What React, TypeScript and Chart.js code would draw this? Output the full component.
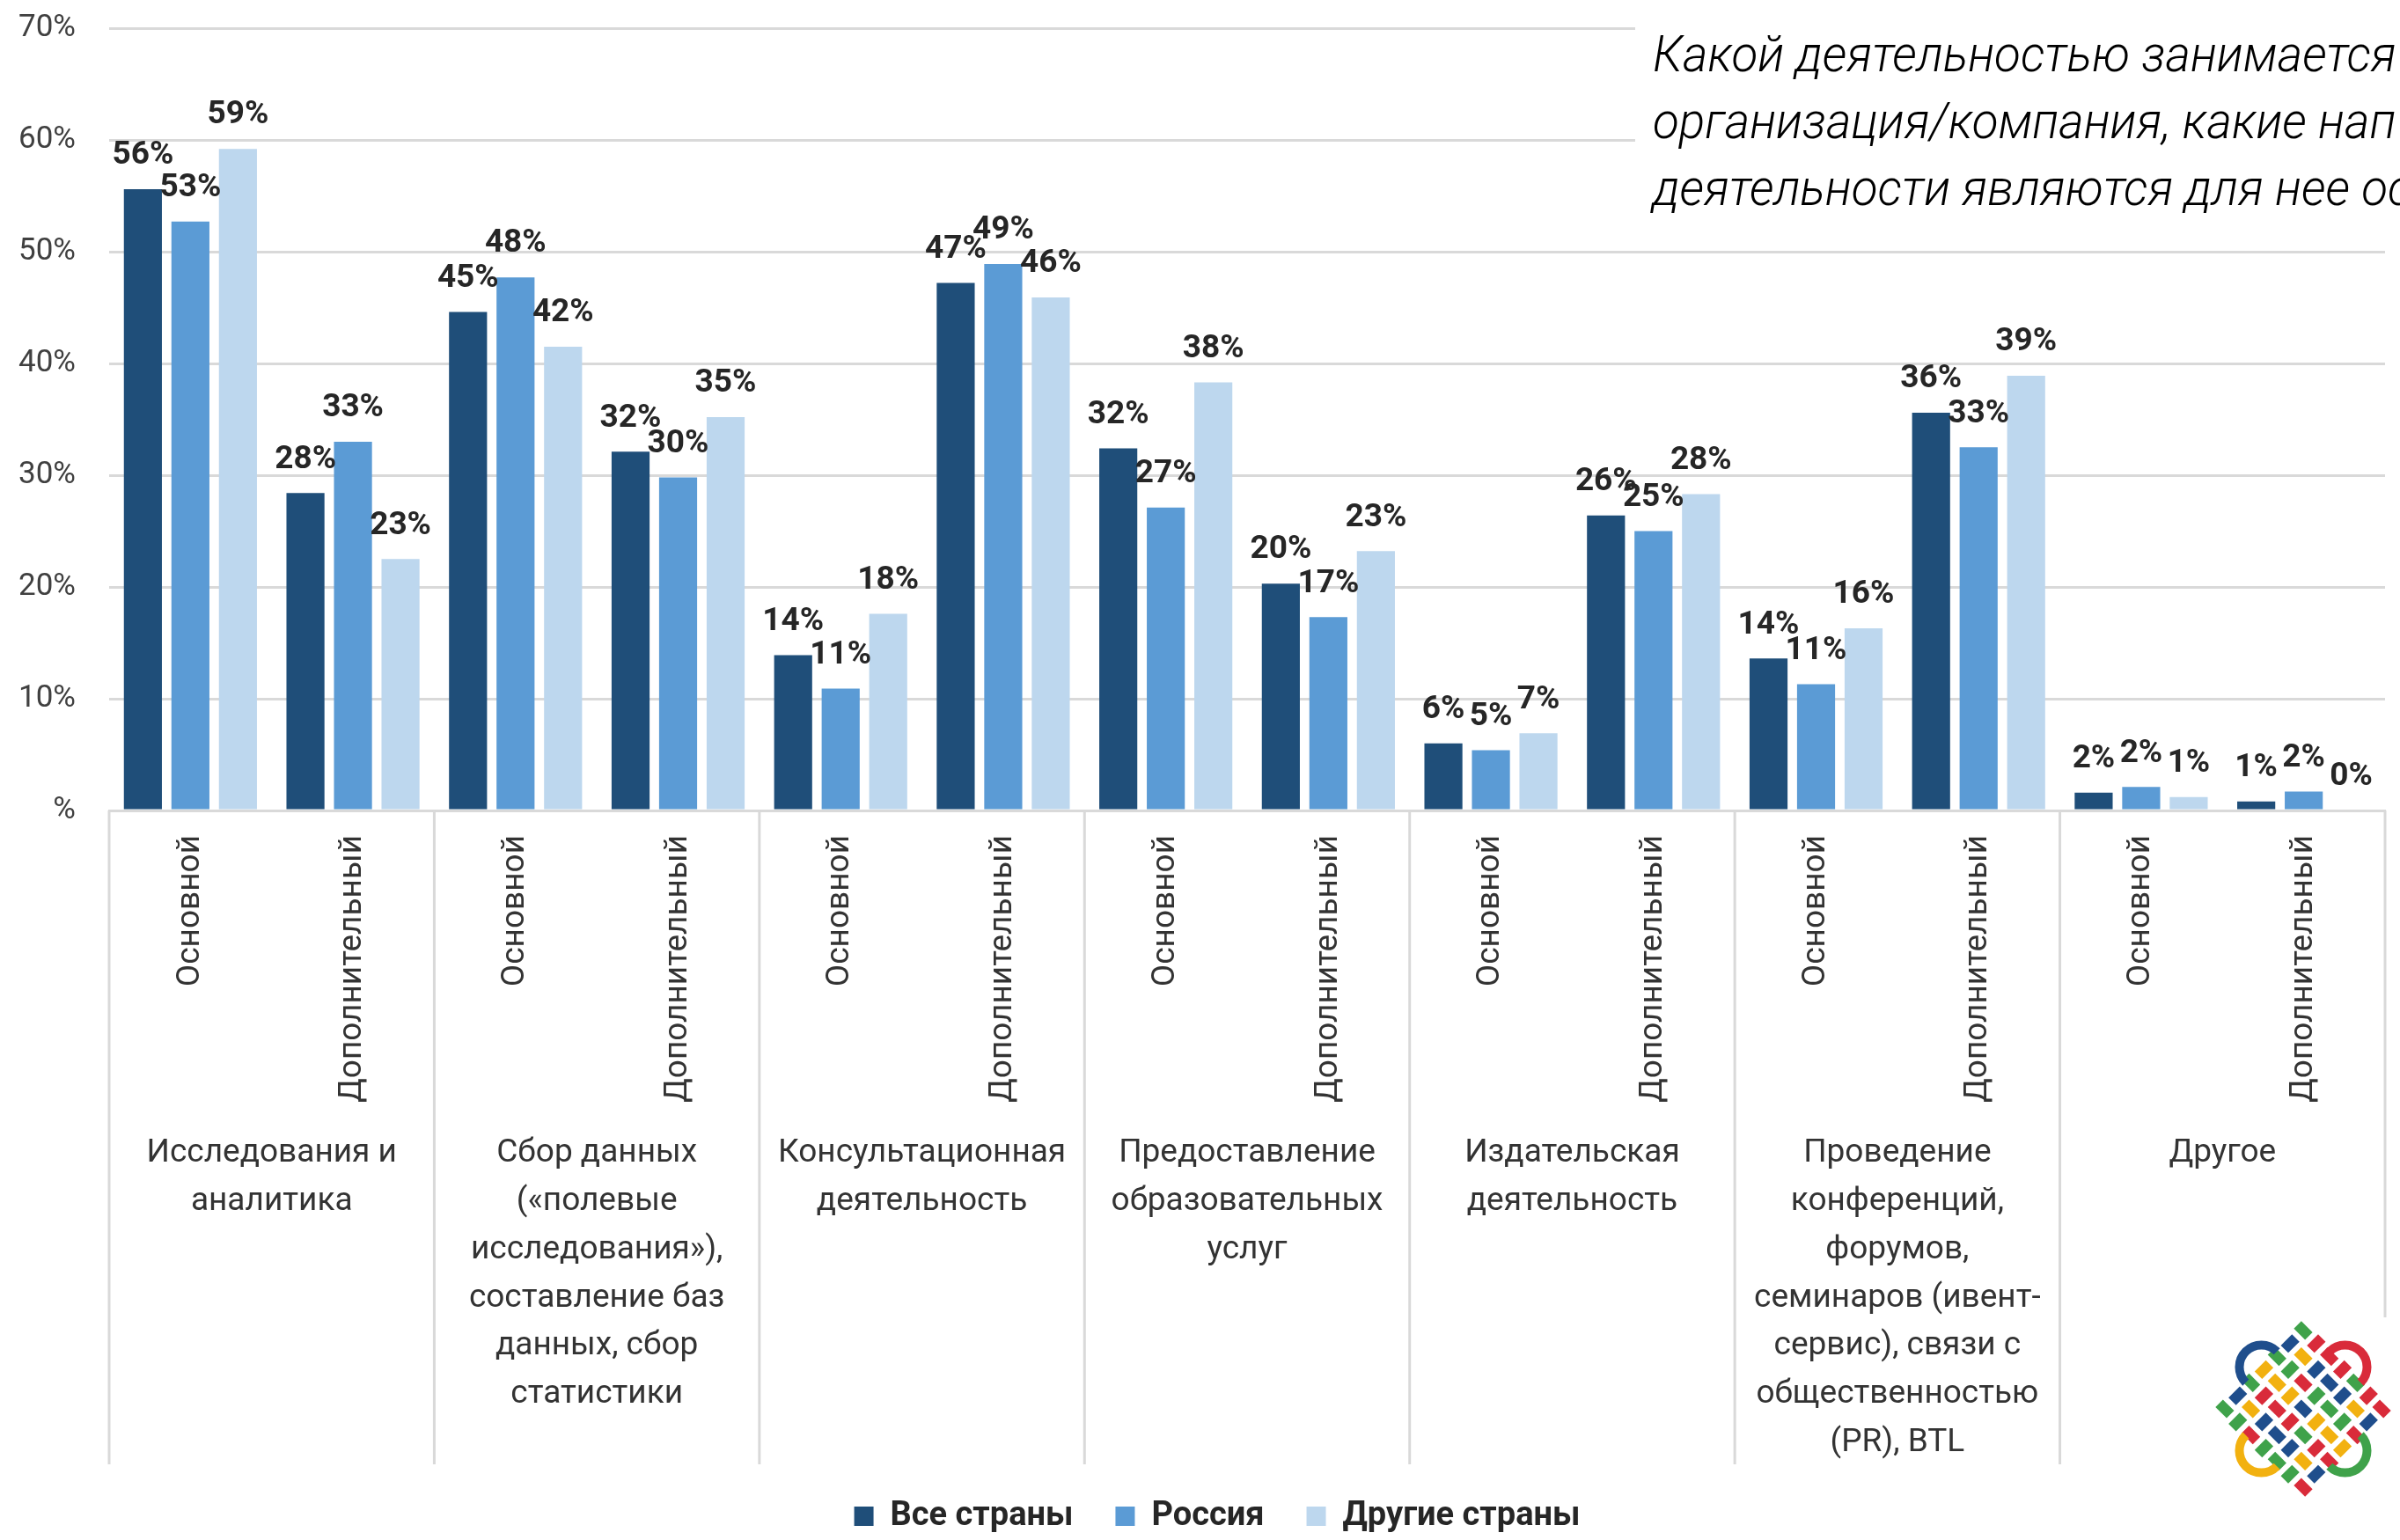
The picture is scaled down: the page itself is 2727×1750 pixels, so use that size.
import React, { useEffect, useRef } from "react";
import { Chart, registerables } from "chart.js";

Chart.register(...registerables);

const categories = [
  "Основной", "Дополнительный", "Основной", "Дополнительный", "Основной", "Дополнительный", "Основной",
  "Дополнительный", "Основной", "Дополнительный", "Основной", "Дополнительный", "Основной", "Дополнительный",
];
const groupLabels = [
  ["Исследования и", "аналитика"],
  ["Сбор данных", "(«полевые", "исследования»),", "составление баз", "данных, сбор", "статистики"],
  ["Консультационная", "деятельность"],
  ["Предоставление", "образовательных", "услуг"],
  ["Издательская", "деятельность"],
  ["Проведение", "конференций,", "форумов,", "семинаров (ивент-", "сервис), связи с", "общественностью", "(PR), BTL"],
  ["Другое"],
];
const allCountries = [55.6, 28.4, 44.6, 32.1, 13.9, 47.2, 32.4, 20.3, 6.0, 26.4, 13.6, 35.6, 1.6, 0.8];
const russia = [52.7, 33.0, 47.7, 29.8, 10.9, 48.9, 27.1, 17.3, 5.4, 25.0, 11.3, 32.5, 2.1, 1.7];
const otherCountries = [59.2, 22.5, 41.5, 35.2, 17.6, 45.9, 38.3, 23.2, 6.9, 28.3, 16.3, 38.9, 1.2, 0.0];
const allLabels = ["56%", "28%", "45%", "32%", "14%", "47%", "32%", "20%", "6%", "26%", "14%", "36%", "2%", "1%"];
const russiaLabels = ["53%", "33%", "48%", "30%", "11%", "49%", "27%", "17%", "5%", "25%", "11%", "33%", "2%", "2%"];
const otherLabels = ["59%", "23%", "42%", "35%", "18%", "46%", "38%", "23%", "7%", "28%", "16%", "39%", "1%", "0%"];
const seriesLabels = [allLabels, russiaLabels, otherLabels];
const titleLines = ["Какой деятельностью занимается", "организация/компания, какие нап", "деятельности являются для нее ос"];

const FONT = "Roboto, 'Noto Sans', sans-serif";
const GRID = "#d9d9d9";
const LOGO = ["#1f4e8c", "#3fa24a", "#f2b110", "#d92b3a"];

function drawLogo(ctx: CanvasRenderingContext2D, cx: number, cy: number) {
  ctx.save();
  ctx.translate(cx, cy);
  ctx.rotate(Math.PI / 4);
  const s = 21;
  for (let i = -3; i <= 3; i++) {
    for (let j = -3; j <= 3; j++) {
      const even = (i + j + 12) % 2 === 0;
      ctx.fillStyle = LOGO[even ? (i + 12) % 4 : (j + 14) % 4];
      if (even) ctx.fillRect(i * s - 9, j * s - 6, 18, 12);
      else ctx.fillRect(i * s - 6, j * s - 9, 12, 18);
    }
  }
  ctx.lineWidth = 10;
  const a = 3.2 * s;
  const r = 25;
  const arcs: [number, number, number, string][] = [
    [-a, 0, Math.PI / 2, LOGO[0]],
    [0, -a, Math.PI, LOGO[3]],
    [a, 0, -Math.PI / 2, LOGO[1]],
    [0, a, 0, LOGO[2]],
  ];
  arcs.forEach(([x, y, st, c]) => {
    ctx.strokeStyle = c;
    ctx.beginPath();
    ctx.arc(x, y, r, st, st + Math.PI);
    ctx.stroke();
  });
  ctx.restore();
}

const decorPlugin = {
  id: "decor",
  afterLayout(chart: any) {
    const lg = chart.legend;
    lg.left = 56;
    lg.top += 2;
    lg.bottom += 2;
  },
  afterDatasetsDraw(chart: any) {
    const { ctx, scales } = chart;
    const x = scales.x;
    const y = scales.y;
    const bottomY = 1664;
    const step = x.getPixelForValue(1) - x.getPixelForValue(0);
    ctx.save();

    // value labels above the bars
    ctx.font = `700 37px ${FONT}`;
    ctx.fillStyle = "#262626";
    ctx.textAlign = "center";
    ctx.textBaseline = "middle";
    chart.data.datasets.forEach((_: any, ds: number) => {
      chart.getDatasetMeta(ds).data.forEach((bar: any, i: number) => {
        ctx.fillText(seriesLabels[ds][i], bar.x, bar.y - 38);
      });
    });

    // group separators and group names
    ctx.strokeStyle = GRID;
    ctx.lineWidth = 3;
    for (let g = 0; g <= groupLabels.length; g++) {
      const px = x.getPixelForValue(g * 2) - step / 2;
      ctx.beginPath();
      ctx.moveTo(px, y.bottom);
      ctx.lineTo(px, g === groupLabels.length ? 1497 : bottomY);
      ctx.stroke();
    }
    ctx.font = `400 37px ${FONT}`;
    ctx.fillStyle = "#333333";
    groupLabels.forEach((lines, g) => {
      const cx = x.getPixelForValue(g * 2) + step / 2;
      lines.forEach((line, l) => ctx.fillText(line, cx, 1311 + l * 54.8));
    });

    // question box over the top of the grid
    ctx.fillStyle = "#ffffff";
    ctx.fillRect(1858, 0, 869, 250);
    ctx.save();
    ctx.translate(1878, 0);
    ctx.scale(0.945, 1);
    ctx.font = `italic 300 58px ${FONT}`;
    ctx.fillStyle = "#000000";
    ctx.textAlign = "left";
    titleLines.forEach((line, l) => ctx.fillText(line, 0, 66 + l * 76));
    ctx.restore();

    drawLogo(ctx, 2617, 1601);
    ctx.restore();
  },
};

export default function App() {
  const ref = useRef<HTMLCanvasElement | null>(null);

  useEffect(() => {
    const canvas = ref.current;
    if (!canvas) return;
    const chart = new Chart(canvas, {
      type: "bar",
      data: {
        labels: categories,
        datasets: [
          { label: "Все страны", data: allCountries, backgroundColor: "#1f4e79" },
          { label: "Россия", data: russia, backgroundColor: "#5b9bd5" },
          { label: "Другие страны", data: otherCountries, backgroundColor: "#bdd7ee" },
        ],
      },
      options: {
        responsive: false,
        animation: false,
        layout: { padding: { left: 0, right: 17, top: 32, bottom: 0 } },
        datasets: { bar: { barPercentage: 0.8, categoryPercentage: 0.877 } },
        plugins: {
          tooltip: { enabled: false },
          legend: {
            position: "bottom",
            labels: {
              boxWidth: 22,
              boxHeight: 22,
              padding: 48,
              color: "#262626",
              font: { family: FONT, size: 38, weight: "700" },
            },
          },
        },
        scales: {
          x: {
            grid: { display: false },
            border: { color: GRID, width: 3 },
            afterFit(scale: any) {
              scale.height = 733;
            },
            ticks: {
              autoSkip: false,
              minRotation: 90,
              maxRotation: 90,
              padding: 20,
              color: "#333333",
              font: { family: FONT, size: 37 },
            },
          },
          y: {
            min: 0,
            max: 70,
            afterFit(scale: any) {
              scale.width = 124;
              scale.paddingTop = 0;
              scale.paddingBottom = 0;
            },
            grid: { color: GRID, lineWidth: 3, drawTicks: false },
            border: { display: false },
            ticks: {
              stepSize: 10,
              padding: 38,
              color: "#404040",
              font: { family: FONT, size: 35 },
              callback: (v: any) => (v === 0 ? "%" : `${v}%`),
            },
          },
        },
      },
      plugins: [decorPlugin],
    } as any);
    return () => chart.destroy();
  }, []);

  return (
    <div style={{ position: "fixed", left: 0, top: 0, width: 2727, height: 1750, background: "#fff", overflow: "hidden" }}>
      <canvas ref={ref} width={2727} height={1750} style={{ display: "block" }} />
    </div>
  );
}
